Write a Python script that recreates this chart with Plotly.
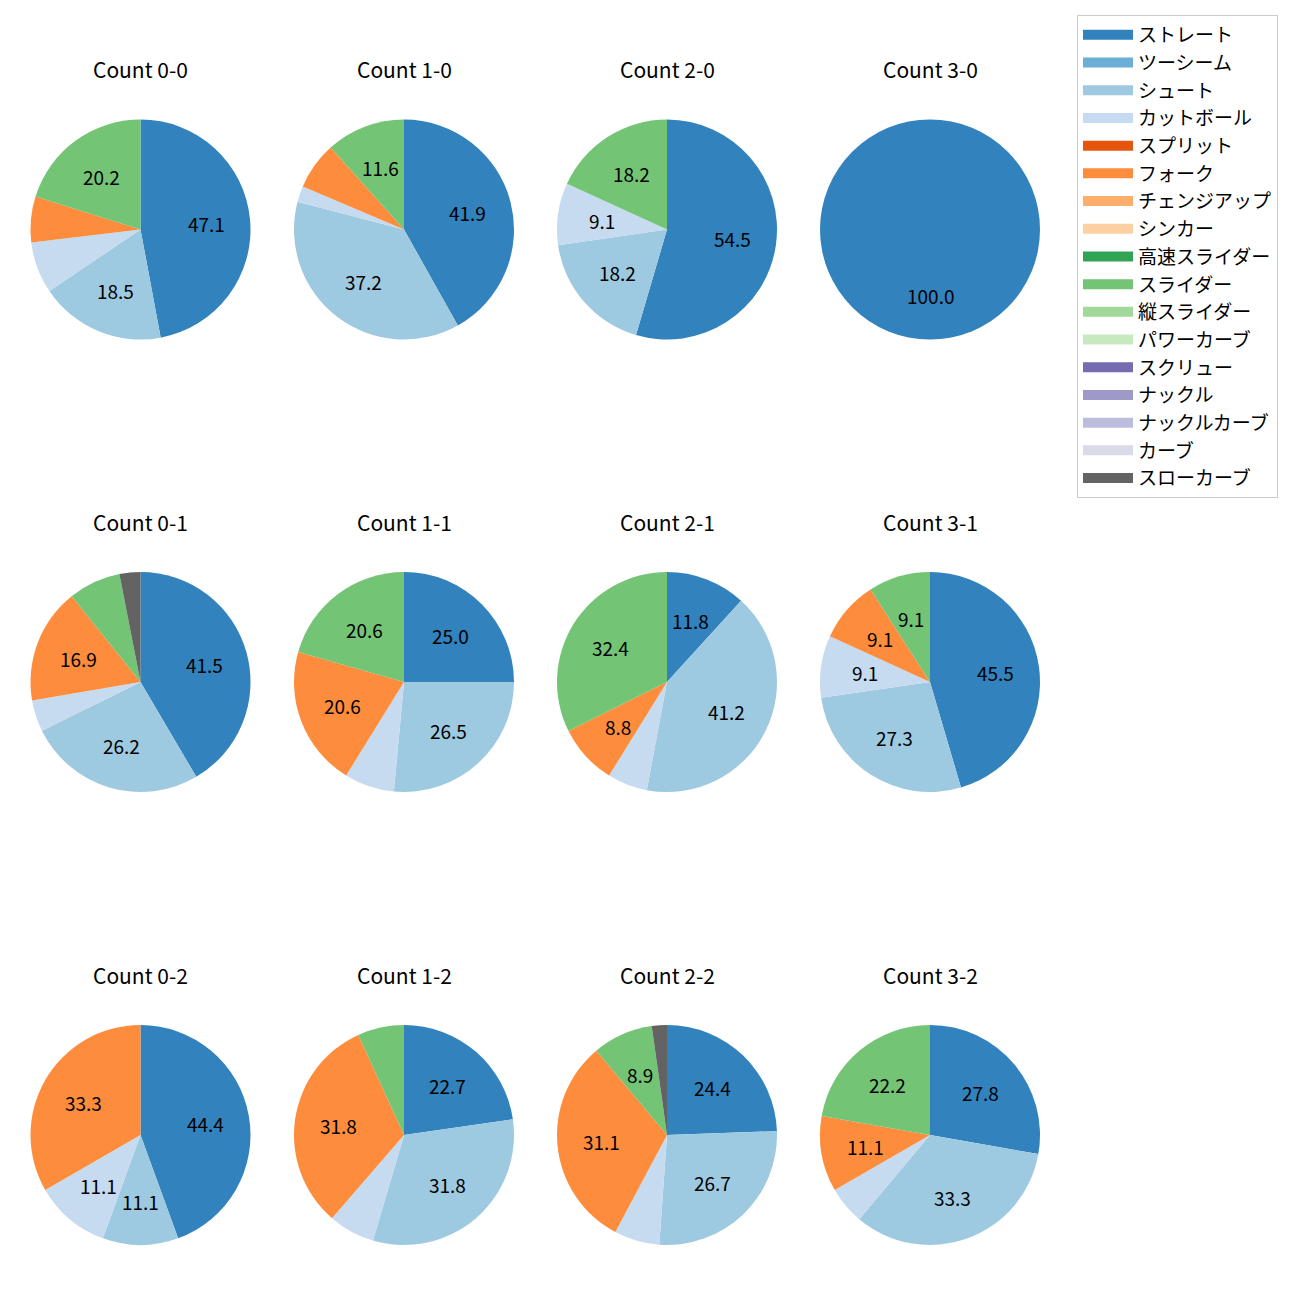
import math
import plotly.graph_objects as go

# ---------------- data ----------------
count_labels = ["0-0", "1-0", "2-0", "3-0",
                "0-1", "1-1", "2-1", "3-1",
                "0-2", "1-2", "2-2", "3-2"]

pitch_types = ["ストレート", "ツーシーム", "シュート", "カットボール", "スプリット", "フォーク",
               "チェンジアップ", "シンカー", "高速スライダー", "スライダー", "縦スライダー",
               "パワーカーブ", "スクリュー", "ナックル", "ナックルカーブ", "カーブ", "スローカーブ"]

pitch_colors = ["#3182bd", "#6baed6", "#9ecae1", "#c6dbef", "#e6550d", "#fd8d3c",
                "#fdae6b", "#fdd0a2", "#31a354", "#74c476", "#a1d99b", "#c7e9c0",
                "#756bb1", "#9e9ac8", "#bcbddc", "#dadaeb", "#636363"]

# pitch counts per ball-strike count (same order as count_labels)
straight   = [56, 18, 6, 1, 27, 17, 4, 5, 4, 10, 11, 5]
shoot      = [22, 16, 2, 0, 17, 18, 14, 3, 1, 14, 12, 6]
cutball    = [9, 1, 1, 0, 3, 5, 2, 1, 1, 3, 3, 1]
fork       = [8, 3, 0, 0, 11, 14, 3, 1, 3, 14, 14, 2]
slider     = [24, 5, 2, 0, 5, 14, 11, 1, 0, 3, 4, 4]
slow_curve = [0, 0, 0, 0, 2, 0, 0, 0, 0, 0, 1, 0]

series = {
    "ストレート": straight,
    "シュート": shoot,
    "カットボール": cutball,
    "フォーク": fork,
    "スライダー": slider,
    "スローカーブ": slow_curve,
}

# ---------------- layout geometry ----------------
W, H = 1300, 1300
OFF = 8  # page body margin
col_cx = [140.5 - OFF, 404 - OFF, 667 - OFF, 930 - OFF]
row_cy = [229.5 - OFF, 682 - OFF, 1135 - OFF]
R = 110
TITLE_OFFSET = 160
FONT = "Noto Sans CJK JP, Noto Sans, sans-serif"
LABEL_SIZE = 19
TITLE_SIZE = 21
LEGEND_SIZE = 19

fig = go.Figure()
annotations = []

for i, cname in enumerate(count_labels):
    row, col = divmod(i, 4)
    cx, cy = col_cx[col], row_cy[row]
    vals = [series.get(p, [0] * len(count_labels))[i] for p in pitch_types]
    labs = [p for p, v in zip(pitch_types, vals) if v > 0]
    cols = [c for c, v in zip(pitch_colors, vals) if v > 0]
    vv = [v for v in vals if v > 0]
    total = sum(vv)
    fig.add_trace(go.Pie(
        labels=labs, values=vv, sort=False, direction="clockwise", rotation=0,
        marker=dict(colors=cols, line=dict(width=0)),
        textinfo="none", hoverinfo="label+percent", showlegend=False,
        domain=dict(x=[(cx - R) / W, (cx + R) / W],
                    y=[1 - (cy + R) / H, 1 - (cy - R) / H]),
    ))
    # percentage labels at 0.6 radius (matplotlib pctdistance)
    cum = 0
    for v in vv:
        pct = 100 * v / total
        mid = math.radians(90 - 360 * (cum + v / 2) / total)
        cum += v
        if pct < 8:
            continue
        px = cx + 0.6 * R * math.cos(mid)
        py = cy - 0.6 * R * math.sin(mid)
        annotations.append(dict(
            x=px / W, y=1 - py / H, xref="paper", yref="paper",
            text=f"{pct:.1f}", showarrow=False, xanchor="center", yanchor="middle",
            font=dict(size=LABEL_SIZE, color="#000000", family=FONT)))
    annotations.append(dict(
        x=cx / W, y=1 - (cy - TITLE_OFFSET) / H, xref="paper", yref="paper",
        text=f"Count {cname}", showarrow=False, xanchor="center", yanchor="middle",
        font=dict(size=TITLE_SIZE, color="#000000", family=FONT)))

# legend entries (one per pitch type, in fixed order)
for p, c in zip(pitch_types, pitch_colors):
    fig.add_trace(go.Scatter(
        x=[None], y=[None], mode="lines", name=p,
        line=dict(color=c, width=13), legendgroup=p, showlegend=True,
        hoverinfo="skip"))

fig.update_layout(
    width=W, height=H,
    margin=dict(l=0, r=0, t=0, b=0, autoexpand=False),
    paper_bgcolor="white", plot_bgcolor="white",
    xaxis=dict(visible=False), yaxis=dict(visible=False),
    annotations=annotations,
    legend=dict(
        x=(1077 - OFF) / W, y=1 - (15 - OFF) / H, xanchor="left", yanchor="top",
        bordercolor="#cccccc", borderwidth=1, bgcolor="white",
        font=dict(size=LEGEND_SIZE, family=FONT, color="#000000"),
        tracegroupgap=0, traceorder="normal", itemwidth=50),
    font=dict(family=FONT),
)

fig.write_html("out.html")
